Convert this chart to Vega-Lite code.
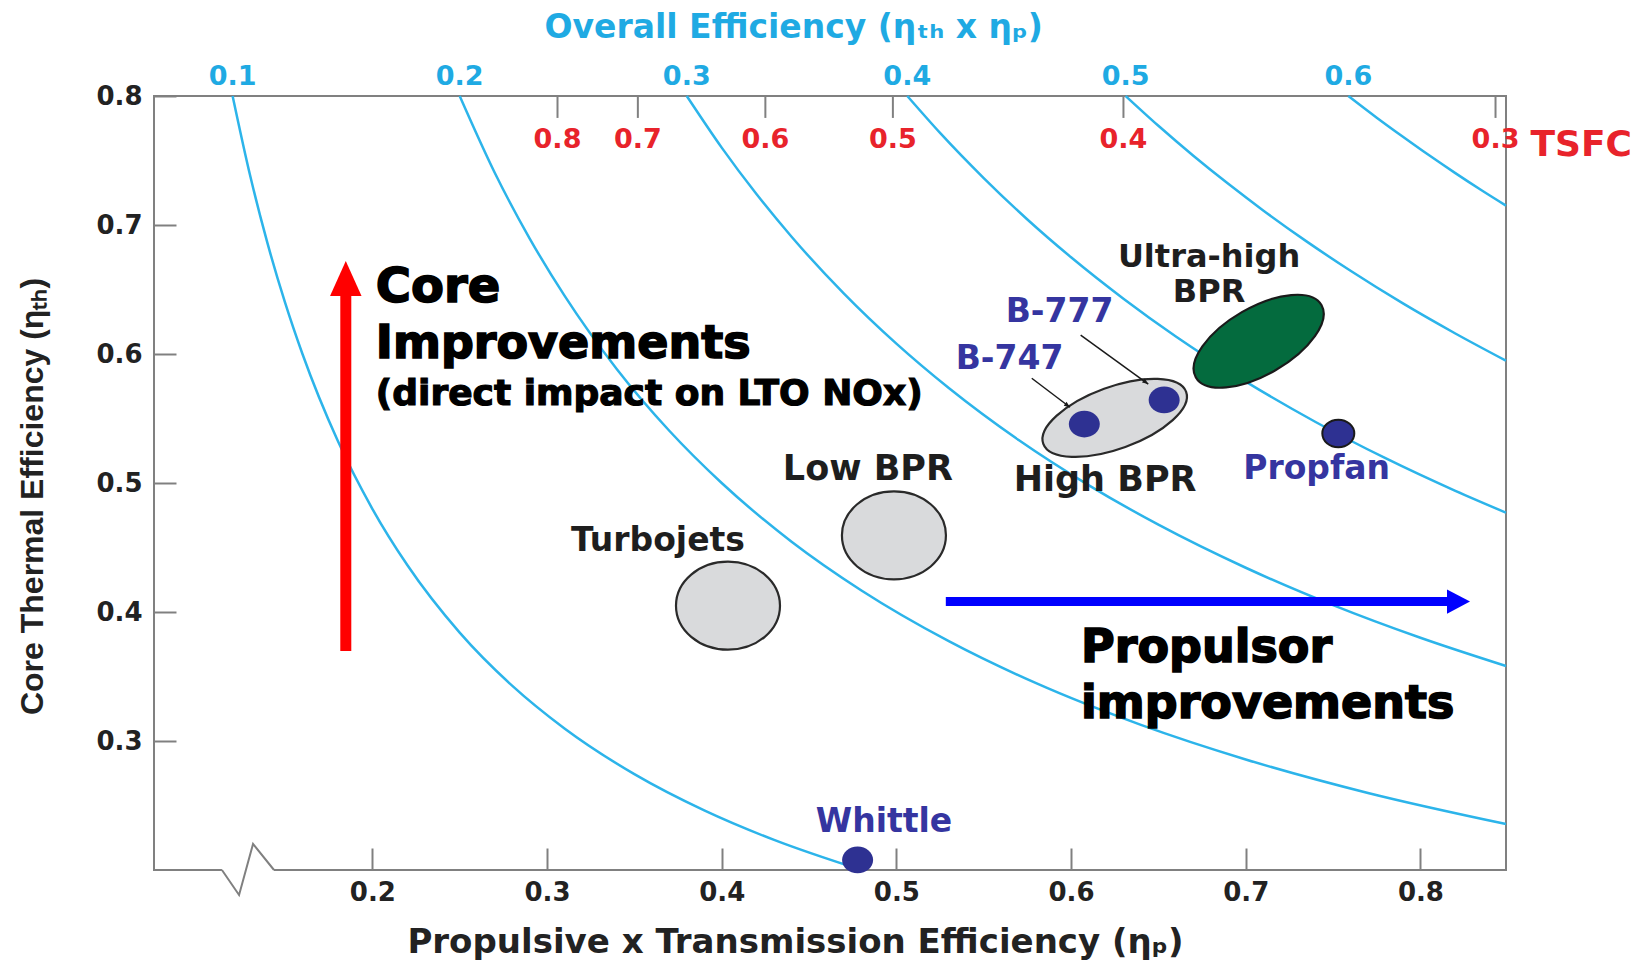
{
  "$schema": "https://vega.github.io/schema/vega-lite/v6.json",
  "width": 1352,
  "height": 774,
  "autosize": {"type": "none"},
  "padding": {"left": 154, "top": 96, "right": 140, "bottom": 95},
  "background": "white",
  "config": {"view": {"stroke": "#808080", "strokeWidth": 2}},
  "datasets": {
    "curves": [
      {"c": "0.1", "x": 0.12, "y": 0.8}, {"c": "0.1", "x": 0.13, "y": 0.7385}, {"c": "0.1", "x": 0.14, "y": 0.6857}, {"c": "0.1", "x": 0.15, "y": 0.64}, {"c": "0.1", "x": 0.16, "y": 0.6}, {"c": "0.1", "x": 0.18, "y": 0.5333}, {"c": "0.1", "x": 0.2, "y": 0.48}, {"c": "0.1", "x": 0.22, "y": 0.4364}, {"c": "0.1", "x": 0.25, "y": 0.384}, {"c": "0.1", "x": 0.28, "y": 0.3429}, {"c": "0.1", "x": 0.31, "y": 0.3097}, {"c": "0.1", "x": 0.35, "y": 0.2743}, {"c": "0.1", "x": 0.39, "y": 0.2462}, {"c": "0.1", "x": 0.43, "y": 0.2233}, {"c": "0.1", "x": 0.48, "y": 0.2},
      {"c": "0.2", "x": 0.25, "y": 0.8}, {"c": "0.2", "x": 0.27, "y": 0.7407}, {"c": "0.2", "x": 0.29, "y": 0.6897}, {"c": "0.2", "x": 0.31, "y": 0.6452}, {"c": "0.2", "x": 0.34, "y": 0.5882}, {"c": "0.2", "x": 0.37, "y": 0.5405}, {"c": "0.2", "x": 0.4, "y": 0.5}, {"c": "0.2", "x": 0.44, "y": 0.4545}, {"c": "0.2", "x": 0.48, "y": 0.4167}, {"c": "0.2", "x": 0.53, "y": 0.3774}, {"c": "0.2", "x": 0.58, "y": 0.3448}, {"c": "0.2", "x": 0.64, "y": 0.3125}, {"c": "0.2", "x": 0.7, "y": 0.2857}, {"c": "0.2", "x": 0.77, "y": 0.2597}, {"c": "0.2", "x": 0.849, "y": 0.2356},
      {"c": "0.3", "x": 0.38, "y": 0.8}, {"c": "0.3", "x": 0.4, "y": 0.76}, {"c": "0.3", "x": 0.42, "y": 0.7238}, {"c": "0.3", "x": 0.44, "y": 0.6909}, {"c": "0.3", "x": 0.47, "y": 0.6468}, {"c": "0.3", "x": 0.5, "y": 0.608}, {"c": "0.3", "x": 0.53, "y": 0.5736}, {"c": "0.3", "x": 0.57, "y": 0.5333}, {"c": "0.3", "x": 0.61, "y": 0.4984}, {"c": "0.3", "x": 0.65, "y": 0.4677}, {"c": "0.3", "x": 0.7, "y": 0.4343}, {"c": "0.3", "x": 0.75, "y": 0.4053}, {"c": "0.3", "x": 0.8, "y": 0.38}, {"c": "0.3", "x": 0.849, "y": 0.3581},
      {"c": "0.4", "x": 0.50625, "y": 0.8}, {"c": "0.4", "x": 0.525, "y": 0.7714}, {"c": "0.4", "x": 0.55, "y": 0.7364}, {"c": "0.4", "x": 0.575, "y": 0.7043}, {"c": "0.4", "x": 0.6, "y": 0.675}, {"c": "0.4", "x": 0.63, "y": 0.6429}, {"c": "0.4", "x": 0.66, "y": 0.6136}, {"c": "0.4", "x": 0.7, "y": 0.5786}, {"c": "0.4", "x": 0.74, "y": 0.5473}, {"c": "0.4", "x": 0.78, "y": 0.5192}, {"c": "0.4", "x": 0.82, "y": 0.4939}, {"c": "0.4", "x": 0.849, "y": 0.477},
      {"c": "0.5", "x": 0.63125, "y": 0.8}, {"c": "0.5", "x": 0.65, "y": 0.7769}, {"c": "0.5", "x": 0.67, "y": 0.7537}, {"c": "0.5", "x": 0.69, "y": 0.7319}, {"c": "0.5", "x": 0.71, "y": 0.7113}, {"c": "0.5", "x": 0.735, "y": 0.6871}, {"c": "0.5", "x": 0.76, "y": 0.6645}, {"c": "0.5", "x": 0.79, "y": 0.6392}, {"c": "0.5", "x": 0.82, "y": 0.6159}, {"c": "0.5", "x": 0.849, "y": 0.5948},
      {"c": "0.6", "x": 0.75875, "y": 0.8}, {"c": "0.6", "x": 0.775, "y": 0.7832}, {"c": "0.6", "x": 0.79, "y": 0.7684}, {"c": "0.6", "x": 0.805, "y": 0.754}, {"c": "0.6", "x": 0.82, "y": 0.7402}, {"c": "0.6", "x": 0.835, "y": 0.7269}, {"c": "0.6", "x": 0.849, "y": 0.715}
    ],
    "topLabels": [
      {"t": "0.1", "x": 0.12, "y": 0.815}, {"t": "0.2", "x": 0.25, "y": 0.815}, {"t": "0.3", "x": 0.38, "y": 0.815},
      {"t": "0.4", "x": 0.50625, "y": 0.815}, {"t": "0.5", "x": 0.63125, "y": 0.815}, {"t": "0.6", "x": 0.75875, "y": 0.815}
    ],
    "overallTitle": [{"t": "Overall Efficiency (ηₜₕ x ηₚ)", "x": 0.4412, "y": 0.8525}],
    "tsfcTicks": [
      {"x": 0.306, "y": 0.8, "y2": 0.783}, {"x": 0.352, "y": 0.8, "y2": 0.783}, {"x": 0.425, "y": 0.8, "y2": 0.783},
      {"x": 0.498, "y": 0.8, "y2": 0.783}, {"x": 0.63, "y": 0.8, "y2": 0.783}, {"x": 0.843, "y": 0.8, "y2": 0.783}
    ],
    "tsfcLabels": [
      {"t": "0.8", "x": 0.306, "y": 0.7662}, {"t": "0.7", "x": 0.352, "y": 0.7662}, {"t": "0.6", "x": 0.425, "y": 0.7662},
      {"t": "0.5", "x": 0.498, "y": 0.7662}, {"t": "0.4", "x": 0.63, "y": 0.7662}, {"t": "0.3", "x": 0.843, "y": 0.7662}
    ],
    "tsfcWord": [{"t": "TSFC", "x": 0.863, "y": 0.762}],
    "brk": [{"x": 0.1139, "x2": 0.1437, "y": 0.2}],
    "zig": [{"x": 0.1139, "y": 0.2}, {"x": 0.1237, "y": 0.1806}, {"x": 0.1317, "y": 0.2202}, {"x": 0.1437, "y": 0.2}],
    "blobs": [
      {"k": "turbo", "x": 0.4036, "y": 0.4049},
      {"k": "low", "x": 0.4986, "y": 0.4594},
      {"k": "high", "x": 0.625, "y": 0.5505},
      {"k": "ultra", "x": 0.7074, "y": 0.6099}
    ],
    "dots": [
      {"k": "B-747", "x": 0.6076, "y": 0.5457},
      {"k": "B-777", "x": 0.6533, "y": 0.5644},
      {"k": "Propfan", "x": 0.753, "y": 0.5384},
      {"k": "Whittle", "x": 0.4778, "y": 0.2078}
    ],
    "pointers": [
      {"k": "B-777", "x": 0.6055, "y": 0.6147, "x2": 0.6442, "y2": 0.5767},
      {"k": "B-747", "x": 0.5775, "y": 0.5812, "x2": 0.5994, "y2": 0.5587}
    ],
    "pointerHeads": [
      {"k": "B-777", "x": 0.6442, "y": 0.5767},
      {"k": "B-747", "x": 0.5994, "y": 0.5587}
    ],
    "redShaft": [{"x": 0.1848, "y": 0.3697, "y2": 0.648}],
    "redHead": [{"x": 0.1848, "y": 0.672}],
    "blueShaft": [{"x": 0.5283, "x2": 0.816, "y": 0.4081}],
    "blueHead": [{"x": 0.8284, "y": 0.4081}],
    "labels": [
      {"t": "Turbojets", "k": "black", "x": 0.3635, "y": 0.4553},
      {"t": "Low BPR", "k": "black", "x": 0.4837, "y": 0.5109},
      {"t": "High BPR", "k": "black", "x": 0.6195, "y": 0.5026},
      {"t": "B-777", "k": "blue", "x": 0.5934, "y": 0.6326},
      {"t": "B-747", "k": "blue", "x": 0.5648, "y": 0.5961},
      {"t": "Propfan", "k": "blue", "x": 0.7406, "y": 0.5109},
      {"t": "Whittle", "k": "blue", "x": 0.4929, "y": 0.2372}
    ],
    "ultraLabel": [{"t": "Ultra-high\nBPR", "x": 0.679, "y": 0.6752}],
    "notesCore": [
      {"t": "Core", "x": 0.202, "y": 0.6403}
    ],
    "notesBig": [
      {"t": "Improvements", "x": 0.202, "y": 0.5969},
      {"t": "Propulsor", "x": 0.6057, "y": 0.3615},
      {"t": "improvements", "x": 0.6057, "y": 0.3176}
    ],
    "notesSmall": [
      {"t": "(direct impact on LTO NOx)", "x": 0.202, "y": 0.5605}
    ]
  },
  "encoding": {
    "x": {
      "field": "x", "type": "quantitative",
      "scale": {"domain": [0.075, 0.849], "nice": false, "zero": false},
      "axis": {
        "values": [0.2, 0.3, 0.4, 0.5, 0.6, 0.7, 0.8], "format": ".1f", "grid": false, "domain": false,
        "tickSize": -22, "tickWidth": 2, "tickColor": "#808080",
        "labelFont": "DejaVu Sans", "labelFontSize": 26, "labelFontWeight": "bold", "labelColor": "#222222",
        "labelPadding": 31, "labelFlush": false, "labelOverlap": false,
        "title": "Propulsive x Transmission Efficiency (ηₚ)",
        "titleFont": "DejaVu Sans", "titleFontSize": 34, "titleFontWeight": "bold", "titleColor": "#222222",
        "titleX": 641, "titleY": 72, "titleBaseline": "middle", "titleAlign": "center"
      }
    },
    "y": {
      "field": "y", "type": "quantitative",
      "scale": {"domain": [0.2, 0.8], "nice": false, "zero": false},
      "axis": {
        "values": [0.3, 0.4, 0.5, 0.6, 0.7, 0.8], "format": ".1f", "grid": false, "domain": false,
        "tickSize": -22, "tickWidth": 2, "tickColor": "#808080",
        "labelFont": "DejaVu Sans", "labelFontSize": 26, "labelFontWeight": "bold", "labelColor": "#222222",
        "labelPadding": 34, "labelFlush": false, "labelOverlap": false,
        "title": "Core Thermal Efficiency (ηₜₕ)",
        "titleFont": "Liberation Sans", "titleFontSize": 32, "titleFontWeight": "bold", "titleColor": "#222222",
        "titleAngle": -90, "titleX": -122, "titleY": 400, "titleBaseline": "middle", "titleAlign": "center"
      }
    }
  },
  "layer": [
    {
      "data": {"name": "curves"},
      "mark": {"type": "line", "interpolate": "monotone", "color": "#2cb4ea", "strokeWidth": 2.5},
      "encoding": {"detail": {"field": "c"}}
    },
    {
      "data": {"name": "tsfcTicks"},
      "mark": {"type": "rule", "color": "#808080", "strokeWidth": 2},
      "encoding": {"y2": {"field": "y2"}}
    },
    {
      "data": {"name": "brk"},
      "mark": {"type": "rule", "color": "white", "strokeWidth": 6},
      "encoding": {"x2": {"field": "x2"}}
    },
    {
      "data": {"name": "zig"},
      "mark": {"type": "line", "color": "#808080", "strokeWidth": 2},
      "encoding": {}
    },
    {
      "data": {"name": "blobs"},
      "transform": [{"filter": "datum.k == 'turbo' || datum.k == 'low'"}],
      "mark": {"type": "point", "shape": "M -1 0 A 1 0.846 0 1 0 1 0 A 1 0.846 0 1 0 -1 0 Z", "size": 10816, "filled": true, "fill": "#d9dadc", "stroke": "#2a2a2a", "strokeWidth": 2.2, "opacity": 1}
    },
    {
      "data": {"name": "blobs"},
      "transform": [{"filter": "datum.k == 'high'"}],
      "mark": {"type": "point", "shape": "M -1 0 A 1 0.408 0 1 0 1 0 A 1 0.408 0 1 0 -1 0 Z", "size": 23104, "angle": -20, "filled": true, "fill": "#d9dadc", "stroke": "#2a2a2a", "strokeWidth": 2.2, "opacity": 1}
    },
    {
      "data": {"name": "blobs"},
      "transform": [{"filter": "datum.k == 'ultra'"}],
      "mark": {"type": "point", "shape": "M -1 0 A 1 0.463 0 1 0 1 0 A 1 0.463 0 1 0 -1 0 Z", "size": 21025, "angle": -30, "filled": true, "fill": "#046b3e", "stroke": "#1a1a1a", "strokeWidth": 2.2, "opacity": 1}
    },
    {
      "data": {"name": "dots"},
      "transform": [{"filter": "datum.k != 'Propfan'"}],
      "mark": {"type": "point", "shape": "M -1 0 A 1 0.86 0 1 0 1 0 A 1 0.86 0 1 0 -1 0 Z", "size": 961, "filled": true, "fill": "#2e3192", "strokeWidth": 0, "opacity": 1}
    },
    {
      "data": {"name": "dots"},
      "transform": [{"filter": "datum.k == 'Propfan'"}],
      "mark": {"type": "point", "shape": "M -1 0 A 1 0.86 0 1 0 1 0 A 1 0.86 0 1 0 -1 0 Z", "size": 1024, "filled": true, "fill": "#2e3192", "stroke": "#1a1a1a", "strokeWidth": 2, "opacity": 1}
    },
    {
      "data": {"name": "pointers"},
      "mark": {"type": "rule", "color": "#1a1a1a", "strokeWidth": 1.5},
      "encoding": {"x2": {"field": "x2"}, "y2": {"field": "y2"}}
    },
    {
      "data": {"name": "pointerHeads"},
      "mark": {"type": "point", "shape": "M 0 0 L -2 -0.8 L -2 0.8 Z", "size": 36, "angle": 36, "filled": true, "fill": "#1a1a1a", "strokeWidth": 0, "opacity": 1}
    },
    {
      "data": {"name": "redShaft"},
      "mark": {"type": "rule", "color": "#ff0000", "strokeWidth": 11},
      "encoding": {"y2": {"field": "y2"}}
    },
    {
      "data": {"name": "redHead"},
      "mark": {"type": "point", "shape": "M 0 0 L 0.9 2 L -0.9 2 Z", "size": 1225, "filled": true, "fill": "#ff0000", "strokeWidth": 0, "opacity": 1}
    },
    {
      "data": {"name": "blueShaft"},
      "mark": {"type": "rule", "color": "#0000ff", "strokeWidth": 9},
      "encoding": {"x2": {"field": "x2"}}
    },
    {
      "data": {"name": "blueHead"},
      "mark": {"type": "point", "shape": "M 0 0 L -2 -1.05 L -2 1.05 Z", "size": 529, "filled": true, "fill": "#0000ff", "strokeWidth": 0, "opacity": 1}
    },
    {
      "data": {"name": "topLabels"},
      "mark": {"type": "text", "font": "DejaVu Sans", "fontSize": 27, "fontWeight": "bold", "color": "#1faae3", "baseline": "middle", "align": "center"},
      "encoding": {"text": {"field": "t"}}
    },
    {
      "data": {"name": "overallTitle"},
      "mark": {"type": "text", "font": "DejaVu Sans", "fontSize": 33, "fontWeight": "bold", "color": "#1faae3", "baseline": "middle", "align": "center"},
      "encoding": {"text": {"field": "t"}}
    },
    {
      "data": {"name": "tsfcLabels"},
      "mark": {"type": "text", "font": "DejaVu Sans", "fontSize": 27, "fontWeight": "bold", "color": "#e8232b", "baseline": "middle", "align": "center"},
      "encoding": {"text": {"field": "t"}}
    },
    {
      "data": {"name": "tsfcWord"},
      "mark": {"type": "text", "font": "DejaVu Sans", "fontSize": 36, "fontWeight": "bold", "color": "#e8232b", "baseline": "middle", "align": "left"},
      "encoding": {"text": {"field": "t"}}
    },
    {
      "data": {"name": "labels"},
      "transform": [{"filter": "datum.t != 'Low BPR' && datum.t != 'High BPR'"}],
      "mark": {"type": "text", "font": "DejaVu Sans", "fontSize": 33, "fontWeight": "bold", "baseline": "middle", "align": "center"},
      "encoding": {
        "text": {"field": "t"},
        "color": {"field": "k", "type": "nominal", "scale": {"domain": ["black", "blue"], "range": ["#1e1e1e", "#3535a0"]}, "legend": null}
      }
    },
    {
      "data": {"name": "labels"},
      "transform": [{"filter": "datum.t == 'Low BPR' || datum.t == 'High BPR'"}],
      "mark": {"type": "text", "font": "DejaVu Sans", "fontSize": 35, "fontWeight": "bold", "baseline": "middle", "align": "center", "color": "#1e1e1e"},
      "encoding": {"text": {"field": "t"}}
    },
    {
      "data": {"name": "ultraLabel"},
      "mark": {"type": "text", "font": "DejaVu Sans", "fontSize": 32, "fontWeight": "bold", "baseline": "middle", "align": "center", "color": "#1e1e1e", "lineBreak": "\n", "lineHeight": 35},
      "encoding": {"text": {"field": "t"}}
    },
    {
      "data": {"name": "notesCore"},
      "mark": {"type": "text", "font": "DejaVu Sans", "fontSize": 48, "fontWeight": "bold", "color": "#000000", "stroke": "#000000", "strokeWidth": 1.6, "baseline": "alphabetic", "align": "left"},
      "encoding": {"text": {"field": "t"}}
    },
    {
      "data": {"name": "notesBig"},
      "mark": {"type": "text", "font": "DejaVu Sans", "fontSize": 46, "fontWeight": "bold", "color": "#000000", "stroke": "#000000", "strokeWidth": 1.6, "baseline": "alphabetic", "align": "left"},
      "encoding": {"text": {"field": "t"}}
    },
    {
      "data": {"name": "notesSmall"},
      "mark": {"type": "text", "font": "DejaVu Sans", "fontSize": 36, "fontWeight": "bold", "color": "#000000", "stroke": "#000000", "strokeWidth": 1.2, "baseline": "alphabetic", "align": "left"},
      "encoding": {"text": {"field": "t"}}
    }
  ]
}
